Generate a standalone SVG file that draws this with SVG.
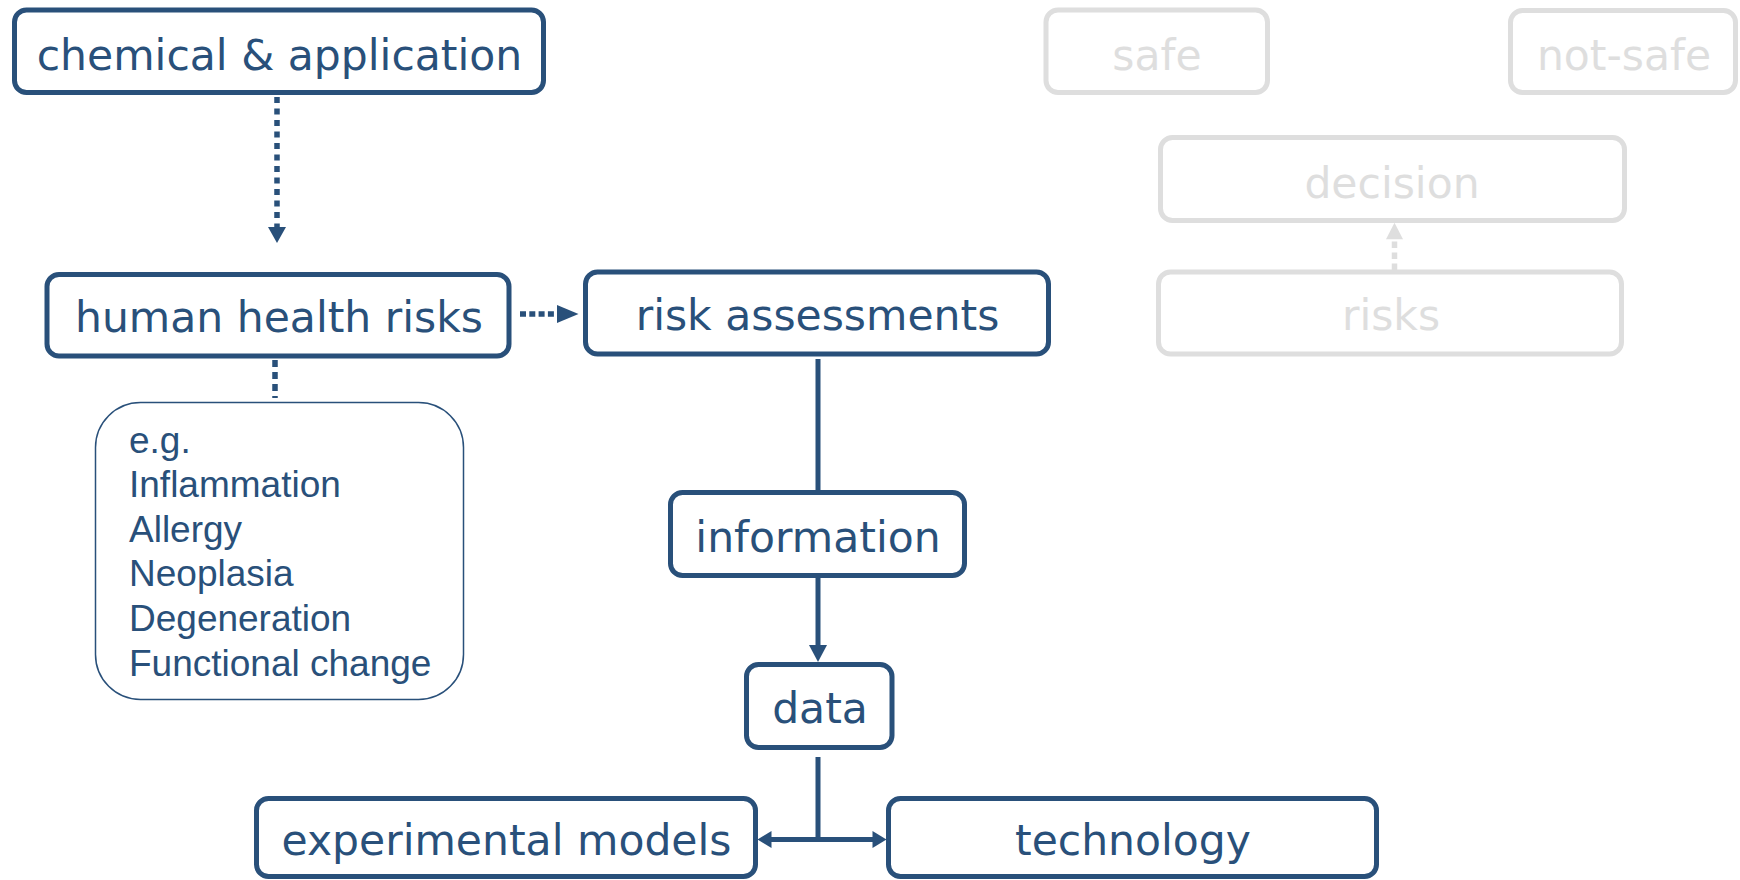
<svg xmlns="http://www.w3.org/2000/svg" width="1740" height="880" viewBox="0 0 1740 880">
<style>
.box{fill:#fff;stroke:#29507A;stroke-width:5}
.gbox{fill:#fff;stroke:#DEDEDE;stroke-width:5}
.lbl{font-family:"DejaVu Sans",Verdana,sans-serif;font-size:42.5px;fill:#29507A;text-anchor:middle}
.glbl{font-family:"DejaVu Sans",Verdana,sans-serif;font-size:42.5px;fill:#DEDEDE;text-anchor:middle}
.lst{font-family:"Liberation Sans",Arial,sans-serif;font-size:37px;fill:#29507A}
.ln{fill:none;stroke:#29507A;stroke-width:5}
.dot{fill:none;stroke:#29507A;stroke-width:5.5}
.gdot{fill:none;stroke:#DEDEDE;stroke-width:5.5}
.ah{fill:#29507A}
.gah{fill:#DEDEDE}
</style>
<rect width="1740" height="880" fill="#fff"/>
<g id="connectors">
  <path class="dot" d="M277,97 V228" stroke-dasharray="6 5.5"/>
  <polygon class="ah" points="268,227 286,227 277,243"/>
  <path class="dot" d="M520,314 H554" stroke-dasharray="6 3.3"/>
  <polygon class="ah" points="557,305 557,323 578.5,314"/>
  <path class="dot" d="M275,360 V398" stroke-dasharray="7 5"/>
  <path class="ln" d="M818,359 V491"/>
  <path class="ln" d="M818,578 V646"/>
  <polygon class="ah" points="809,645 827,645 818,662"/>
  <path class="ln" d="M818,757 V839.5 M770,839.5 H874"/>
  <polygon class="ah" points="757.5,839.5 771.5,831 771.5,848"/>
  <polygon class="ah" points="886.5,839.5 872.5,831 872.5,848"/>
  <path class="gdot" d="M1394.5,270 V240" stroke-dasharray="6.5 4.5"/>
  <polygon class="gah" points="1386,239.3 1403,239.3 1394.5,222.7"/>
</g>
<g id="chemical">
  <rect class="box" x="14.5" y="10" width="529" height="82.5" rx="12"/>
  <text class="lbl" x="279.5" y="70">chemical &amp; application</text>
</g>
<g id="human-health-risks">
  <rect class="box" x="47" y="274.5" width="462" height="81.5" rx="12"/>
  <text class="lbl" x="279" y="332">human health risks</text>
</g>
<g id="examples">
  <rect x="95.5" y="402.5" width="368" height="297" rx="45" fill="#fff" stroke="#29507A" stroke-width="1.5"/>
  <text class="lst" x="129" y="452.5">e.g.</text>
  <text class="lst" x="129" y="497.1">Inflammation</text>
  <text class="lst" x="129" y="541.7">Allergy</text>
  <text class="lst" x="129" y="586.3">Neoplasia</text>
  <text class="lst" x="129" y="630.9">Degeneration</text>
  <text class="lst" x="129" y="675.5">Functional change</text>
</g>
<g id="risk-assessments">
  <rect class="box" x="585.5" y="272" width="463" height="82" rx="12"/>
  <text class="lbl" x="817.5" y="330">risk assessments</text>
</g>
<g id="information">
  <rect class="box" x="670.5" y="492.5" width="294" height="83" rx="12"/>
  <text class="lbl" x="818" y="552">information</text>
</g>
<g id="data">
  <rect class="box" x="746.5" y="664.5" width="145.5" height="83" rx="12"/>
  <text class="lbl" x="820" y="723">data</text>
</g>
<g id="experimental-models">
  <rect class="box" x="256.5" y="798.5" width="499" height="78" rx="12"/>
  <text class="lbl" x="506.5" y="855">experimental models</text>
</g>
<g id="technology">
  <rect class="box" x="888.5" y="798.5" width="488" height="78" rx="12"/>
  <text class="lbl" x="1133" y="855">technology</text>
</g>
<g id="safe">
  <rect class="gbox" x="1046" y="10" width="221.5" height="82.5" rx="12"/>
  <text class="glbl" x="1157" y="70">safe</text>
</g>
<g id="not-safe">
  <rect class="gbox" x="1510.5" y="10.5" width="225" height="82" rx="12"/>
  <text class="glbl" x="1624" y="70">not-safe</text>
</g>
<g id="decision">
  <rect class="gbox" x="1160.5" y="137.5" width="464" height="83" rx="12"/>
  <text class="glbl" x="1392" y="198">decision</text>
</g>
<g id="risks">
  <rect class="gbox" x="1158.5" y="272" width="463" height="82" rx="12"/>
  <text class="glbl" x="1391" y="330">risks</text>
</g>
</svg>
